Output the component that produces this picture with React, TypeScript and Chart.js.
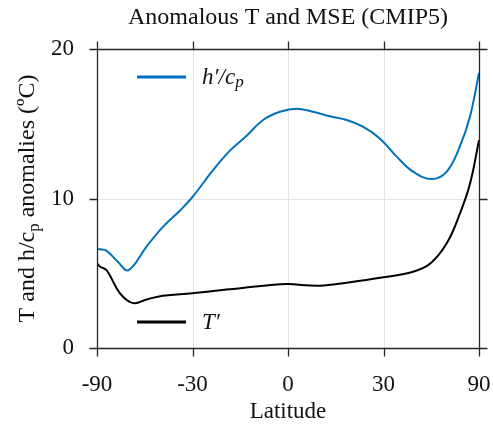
import React, { useEffect, useRef } from "react";
import { Chart, registerables } from "chart.js";

Chart.register(...registerables);

const TITLE = "Anomalous T and MSE (CMIP5)";
const X_LABEL = "Latitude";
const TICK_LATS = [-90, -30, 0, 30, 90];
const TICK_LABELS = ["-90", "-30", "0", "30", "90"];
const Y_TICKS = [0, 10, 20];

const H_LATS = [-90, -80, -71.7, -63, -56.7, -47.7, -40.9, -34.4, -30, -23.1, -17.7, -12.5, -7.5, -2.4, 2.6, 7.5, 12.7, 17.9, 23.1, 28.8, 34.7, 40.9, 48.8, 56.2, 64.2, 72.4, 90];
const H_VALS = [6.6, 6.6, 6.5, 5.77, 5.2, 6.8, 8.1, 9.2, 10.1, 11.9, 13.2, 14.2, 15.25, 15.8, 16.0, 15.8, 15.5, 15.25, 14.8, 14.0, 12.8, 11.8, 11.3, 11.8, 13.5, 15.5, 18.4];

const T_LATS = [-90, -80, -71.7, -61.6, -54.1, -47.7, -40.9, -30, -17.7, -2.4, 0, 9.6, 17.9, 30, 40.9, 48.3, 56.2, 64.2, 72.4, 90];
const T_VALS = [5.67, 5.45, 5.2, 3.66, 3.0, 3.25, 3.5, 3.66, 3.93, 4.26, 4.28, 4.17, 4.37, 4.73, 5.1, 5.67, 7.0, 9.0, 11.0, 13.9];

const FONT = "'Liberation Serif', 'Times New Roman', serif";
const BLUE = "#0072BD";
const DARK = "#262626";
const GRID = "#e3e3e3";

const s = (lat: number) => Math.sin((lat * Math.PI) / 180);

const decorPlugin = {
  id: "decor",
  beforeDatasetsDraw(chart: any) {
    const { ctx, chartArea: a, scales } = chart;
    const xs = scales.x;
    const ys = scales.y;
    ctx.save();
    ctx.strokeStyle = GRID;
    ctx.lineWidth = 1;
    TICK_LATS.forEach((l) => {
      const px = Math.round(xs.getPixelForValue(s(l))) + 0.5;
      ctx.beginPath();
      ctx.moveTo(px, a.top);
      ctx.lineTo(px, a.bottom);
      ctx.stroke();
    });
    Y_TICKS.forEach((v) => {
      const py = Math.round(ys.getPixelForValue(v)) + 0.5;
      ctx.beginPath();
      ctx.moveTo(a.left, py);
      ctx.lineTo(a.right, py);
      ctx.stroke();
    });
    ctx.restore();
  },
  afterDatasetsDraw(chart: any) {
    const { ctx, chartArea: a, scales } = chart;
    const xs = scales.x;
    const ys = scales.y;
    const L = 8;
    ctx.save();
    ctx.strokeStyle = DARK;
    ctx.lineWidth = 1.3;
    const l = Math.round(a.left) + 0.5;
    const r = Math.round(a.right) + 0.5;
    const t = Math.round(a.top) + 0.5;
    const b = Math.round(a.bottom) + 0.5;
    ctx.beginPath();
    ctx.rect(l, t, r - l, b - t);
    ctx.stroke();
    TICK_LATS.forEach((lat) => {
      const px = Math.round(xs.getPixelForValue(s(lat))) + 0.5;
      ctx.beginPath();
      ctx.moveTo(px, t - L);
      ctx.lineTo(px, t);
      ctx.moveTo(px, b);
      ctx.lineTo(px, b + L);
      ctx.stroke();
    });
    Y_TICKS.forEach((v) => {
      const py = Math.round(ys.getPixelForValue(v)) + 0.5;
      ctx.beginPath();
      ctx.moveTo(l - L, py);
      ctx.lineTo(l, py);
      ctx.moveTo(r, py);
      ctx.lineTo(r + L, py);
      ctx.stroke();
    });

    ctx.fillStyle = "#111";
    ctx.textAlign = "center";
    ctx.textBaseline = "middle";
    ctx.font = `24px ${FONT}`;
    ctx.fillText(TITLE, (a.left + a.right) / 2, 18);
    ctx.font = `23px ${FONT}`;
    ctx.fillText(X_LABEL, (a.left + a.right) / 2, 412);

    ctx.save();
    ctx.translate(26, (a.top + a.bottom) / 2);
    ctx.rotate(-Math.PI / 2);
    const p1 = "T and h/c";
    const p2 = "p";
    const p3 = " anomalies (ºC)";
    ctx.font = `24px ${FONT}`;
    const w1 = ctx.measureText(p1).width;
    const w3 = ctx.measureText(p3).width;
    ctx.font = `17px ${FONT}`;
    const w2 = ctx.measureText(p2).width;
    const total = w1 + w2 + w3;
    const x0 = -total / 2;
    ctx.textAlign = "left";
    ctx.textBaseline = "alphabetic";
    ctx.font = `24px ${FONT}`;
    ctx.fillText(p1, x0, 8);
    ctx.font = `17px ${FONT}`;
    ctx.fillText(p2, x0 + w1, 13);
    ctx.font = `24px ${FONT}`;
    ctx.fillText(p3, x0 + w1 + w2, 8);
    ctx.restore();

    const drawEntry = (y: number, color: string, parts: [string, boolean][]) => {
      ctx.strokeStyle = color;
      ctx.lineWidth = 3;
      ctx.beginPath();
      ctx.moveTo(137, y);
      ctx.lineTo(186, y);
      ctx.stroke();
      let x = 202;
      ctx.fillStyle = "#111";
      ctx.textAlign = "left";
      ctx.textBaseline = "alphabetic";
      parts.forEach(([txt, sub]) => {
        ctx.font = sub ? `italic 17px ${FONT}` : `italic 23px ${FONT}`;
        ctx.fillText(txt, x, sub ? y + 10 : y + 7);
        x += ctx.measureText(txt).width;
      });
    };
    drawEntry(77, BLUE, [["h′/c", false], ["p", true]]);
    drawEntry(322, "#000", [["T′", false]]);
    ctx.restore();
  },
};

export default function App() {
  const ref = useRef<HTMLCanvasElement | null>(null);
  useEffect(() => {
    document.body.style.margin = "0";
    const canvas = ref.current!;
    const chart = new Chart(canvas, {
      type: "line",
      data: {
        datasets: [
          {
            label: "h'/cp",
            data: H_LATS.map((l, i) => ({ x: s(l), y: H_VALS[i] })),
            borderColor: BLUE,
            borderWidth: 2,
            pointRadius: 0,
            tension: 0.4,
            fill: false,
          },
          {
            label: "T'",
            data: T_LATS.map((l, i) => ({ x: s(l), y: T_VALS[i] })),
            borderColor: "#000",
            borderWidth: 2,
            pointRadius: 0,
            tension: 0.4,
            fill: false,
          },
        ],
      },
      plugins: [decorPlugin],
      options: {
        responsive: false,
        animation: false,
        layout: { padding: { top: 49, right: 14, left: 0, bottom: 0 } },
        plugins: { legend: { display: false }, title: { display: false }, tooltip: { enabled: false } },
        scales: {
          x: {
            type: "linear",
            min: -1,
            max: 1,
            afterBuildTicks: (sc: any) => {
              sc.ticks = TICK_LATS.map((l) => ({ value: s(l) }));
            },
            afterFit: (sc: any) => {
              sc.height = 81;
              sc.paddingLeft = 0;
              sc.paddingRight = 0;
            },
            grid: { display: false, drawTicks: false },
            border: { display: false },
            ticks: {
              autoSkip: false,
              maxRotation: 0,
              padding: 23,
              color: "#111",
              font: { family: FONT, size: 23 },
              callback: (_v: any, i: number) => TICK_LABELS[i],
            },
          },
          y: {
            min: 0,
            max: 20,
            afterBuildTicks: (sc: any) => {
              sc.ticks = Y_TICKS.map((v) => ({ value: v }));
            },
            afterFit: (sc: any) => {
              sc.width = 97;
              sc.paddingTop = 0;
              sc.paddingBottom = 0;
            },
            grid: { display: false, drawTicks: false },
            border: { display: false },
            ticks: {
              padding: 23,
              color: "#111",
              font: { family: FONT, size: 23 },
              callback: (v: any) => String(v),
            },
          },
        },
      },
    } as any);
    return () => chart.destroy();
  }, []);
  return <canvas ref={ref} width={493} height={429} style={{ display: "block" }} />;
}
